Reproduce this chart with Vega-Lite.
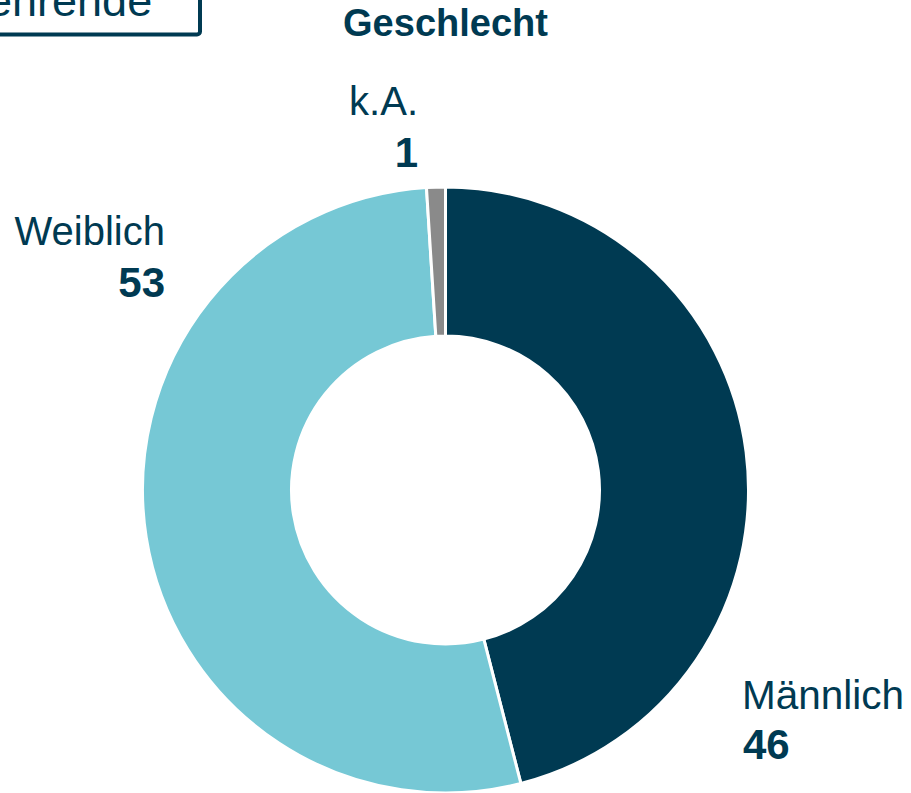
{
  "$schema": "https://vega.github.io/schema/vega-lite/v6.json",
  "width": 891,
  "height": 606,
  "autosize": {"type": "none"},
  "padding": {"left": 0, "top": 187, "right": 20, "bottom": 0},
  "background": "white",
  "title": {
    "text": "Geschlecht",
    "anchor": "middle",
    "frame": "group",
    "offset": -106.5,
    "baseline": "alphabetic",
    "fontSize": 38,
    "fontWeight": "bold",
    "font": "Liberation Sans",
    "color": "#003a52"
  },
  "data": {
    "values": [
      {"Geschlecht": "Männlich", "Anzahl": 46},
      {"Geschlecht": "Weiblich", "Anzahl": 53},
      {"Geschlecht": "k.A.", "Anzahl": 1}
    ]
  },
  "layer": [
    {
      "mark": {"type": "arc", "outerRadius": 303, "innerRadius": 154, "stroke": "white", "strokeWidth": 3},
      "encoding": {
        "theta": {"field": "Anzahl", "type": "quantitative", "stack": true},
        "color": {
          "field": "Geschlecht",
          "type": "nominal",
          "scale": {"domain": ["Männlich", "Weiblich", "k.A."], "range": ["#003a52", "#76c8d5", "#8a8a8a"]},
          "legend": {
            "title": "Lehrende\u00a0\u00a0\u00a0\u200b",
            "values": [],
            "orient": "none",
            "legendX": -48,
            "legendY": -217.5,
            "padding": 10,
            "strokeColor": "#003a52",
            "cornerRadius": 3,
            "titleFontSize": 45,
            "titleFont": "Liberation Sans",
            "titleFontWeight": "normal",
            "titleColor": "#003a52",
            "titlePadding": 0,
            "titleLimit": 1000,
            "titleBaseline": "top"
          }
        }
      }
    },
    {
      "transform": [{"filter": "datum.Geschlecht === 'k.A.'"}],
      "mark": {"type": "text", "align": "right", "baseline": "alphabetic", "dx": -27.5, "dy": -375, "fontSize": 40, "font": "Liberation Sans", "color": "#003a52"},
      "encoding": {"text": {"field": "Geschlecht", "type": "nominal"}}
    },
    {
      "transform": [{"filter": "datum.Geschlecht === 'k.A.'"}],
      "mark": {"type": "text", "align": "right", "baseline": "alphabetic", "dx": -27.5, "dy": -323, "fontSize": 42, "fontWeight": "bold", "font": "Liberation Sans", "color": "#003a52"},
      "encoding": {"text": {"field": "Anzahl", "type": "quantitative"}}
    },
    {
      "transform": [{"filter": "datum.Geschlecht === 'Weiblich'"}],
      "mark": {"type": "text", "align": "right", "baseline": "alphabetic", "dx": -280.5, "dy": -245, "fontSize": 40, "font": "Liberation Sans", "color": "#003a52"},
      "encoding": {"text": {"field": "Geschlecht", "type": "nominal"}}
    },
    {
      "transform": [{"filter": "datum.Geschlecht === 'Weiblich'"}],
      "mark": {"type": "text", "align": "right", "baseline": "alphabetic", "dx": -280.5, "dy": -193, "fontSize": 42, "fontWeight": "bold", "font": "Liberation Sans", "color": "#003a52"},
      "encoding": {"text": {"field": "Anzahl", "type": "quantitative"}}
    },
    {
      "transform": [{"filter": "datum.Geschlecht === 'Männlich'"}],
      "mark": {"type": "text", "align": "left", "baseline": "alphabetic", "dx": 296.5, "dy": 219, "fontSize": 40.5, "font": "Liberation Sans", "color": "#003a52"},
      "encoding": {"text": {"field": "Geschlecht", "type": "nominal"}}
    },
    {
      "transform": [{"filter": "datum.Geschlecht === 'Männlich'"}],
      "mark": {"type": "text", "align": "left", "baseline": "alphabetic", "dx": 297.5, "dy": 269, "fontSize": 42, "fontWeight": "bold", "font": "Liberation Sans", "color": "#003a52"},
      "encoding": {"text": {"field": "Anzahl", "type": "quantitative"}}
    }
  ],
  "config": {
    "view": {"stroke": null},
    "legend": {"strokeWidth": 4}
  }
}
